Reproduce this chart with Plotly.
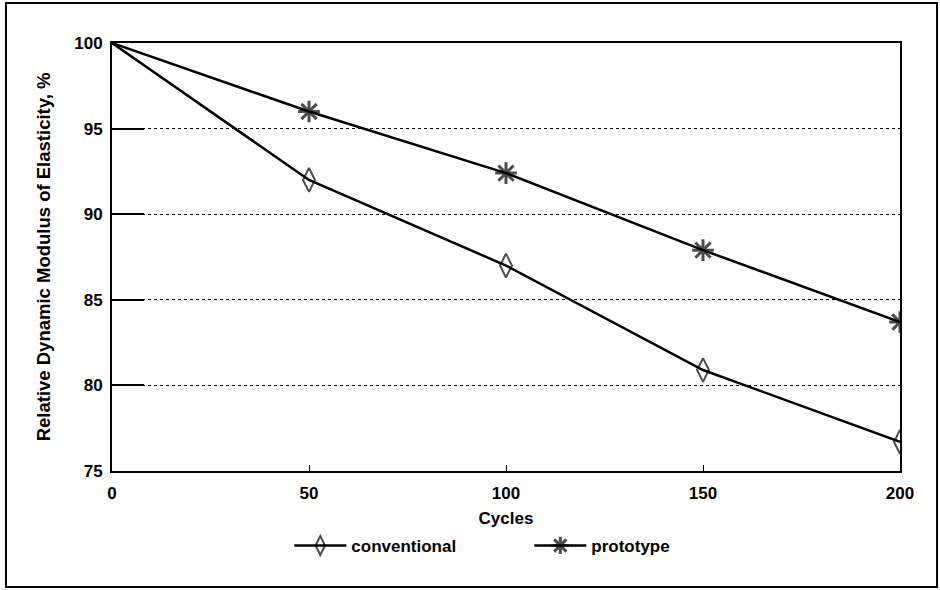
import plotly.graph_objects as go

cycles = [0, 50, 100, 150, 200]
conventional = [100, 92.0, 87.0, 80.9, 76.7]
prototype = [100, 96.0, 92.4, 87.9, 83.7]
y_ticks = [75, 80, 85, 90, 95, 100]
x_ticks = [0, 50, 100, 150, 200]

FONT = "Liberation Sans, Arial, sans-serif"

fig = go.Figure()
fig.add_trace(go.Scatter(
    x=cycles, y=conventional, name="<b>conventional</b>", mode="lines+markers",
    line=dict(color="black", width=2.5),
    marker=dict(symbol="diamond-tall-open", size=17, color="black", line=dict(width=2, color="black")),
))
fig.add_trace(go.Scatter(
    x=cycles, y=prototype, name="<b>prototype</b>", mode="lines+markers",
    line=dict(color="black", width=2.5),
    marker=dict(symbol="asterisk-open", size=18, color="black", line=dict(width=3, color="black")),
))

# points at x=0 have no markers in the reference
for tr in fig.data:
    tr.marker.size = [0] + [tr.marker.size] * (len(cycles) - 1)

fig.update_layout(
    width=940, height=590,
    margin=dict(l=112, r=40, t=43, b=119),
    paper_bgcolor="white", plot_bgcolor="white",
    font=dict(family=FONT, color="black", size=14),
    showlegend=True,
    legend=dict(orientation="h", x=0.225, y=-0.133, xanchor="left", yanchor="top",
                font=dict(family=FONT, size=17, color="black"),
                entrywidth=173, itemwidth=52, bgcolor="rgba(0,0,0,0)"),
    xaxis=dict(
        range=[0, 200], tickvals=x_ticks, ticktext=[f"<b>{v}</b>" for v in x_ticks],
        showline=True, linecolor="black", linewidth=2, mirror=True,
        ticks="inside", ticklen=6, tickwidth=1, tickcolor="black",
        showgrid=False, zeroline=False, ticklabelstandoff=6,
        tickfont=dict(family=FONT, size=17),
        title=dict(text="<b>Cycles</b>", standoff=10,
                   font=dict(family=FONT, size=17)),
    ),
    yaxis=dict(
        range=[75, 100], tickvals=y_ticks, ticktext=[f"<b>{v}</b>" for v in y_ticks],
        showline=True, linecolor="black", linewidth=2, mirror=True,
        ticks="inside", ticklen=32, tickwidth=1.5, tickcolor="black",
        showgrid=True, gridcolor="black", gridwidth=1, griddash="dot",
        zeroline=False, ticklabelstandoff=4,
        tickfont=dict(family=FONT, size=17),
        title=dict(text="<b>Relative Dynamic Modulus of Elasticity, %</b>", standoff=19,
                   font=dict(family=FONT, size=18.5)),
    ),
    shapes=[dict(type="rect", xref="paper", yref="paper",
                 x0=-0.1345, x1=1.047, y0=-0.271, y1=1.0935,
                 line=dict(color="black", width=2), fillcolor="rgba(0,0,0,0)", layer="below")],
)

fig.write_html("out.html", config={"displayModeBar": False},
               post_script="document.body.style.margin='0';")
